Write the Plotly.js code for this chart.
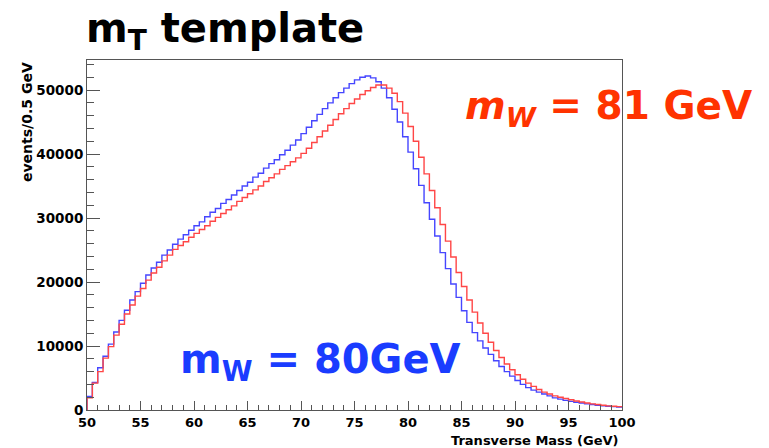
<!DOCTYPE html>
<html>
<head>
<meta charset="utf-8">
<script src="https://cdn.plot.ly/plotly-3.0.1.min.js"></script>
<style>html,body{margin:0;padding:0;background:#fff;}#chart{width:769px;height:448px;}</style>
</head>
<body>
<div id="chart"></div>
<script>
// Histogram: 100 bins of 0.5 GeV from 50 to 100 GeV
const binLow = 50, binWidth = 0.5, nBins = 100;

// m_W = 80 GeV template (events / 0.5 GeV)
const mw80 = [2100,4300,6600,8400,10300,12200,14000,15600,17200,18500,
  19800,21100,22200,23100,24200,25000,25900,26700,27400,28100,
  28800,29400,30200,30900,31500,32300,32900,33600,34300,35000,
  35600,36400,37000,37800,38500,39100,39900,40600,41400,42200,
  43200,44200,45200,46200,47100,48000,48800,49600,50300,51000,
  51600,52000,52200,51900,51300,50300,48800,47000,45000,42700,
  40300,37700,35100,32400,29800,27200,24600,22100,19700,17600,
  15500,13700,12100,10800,9700,8700,7700,6800,6000,5300,
  4600,4000,3500,3100,2800,2500,2200,1900,1700,1500,
  1350,1200,1100,950,850,750,650,580,520,460];

// m_W = 81 GeV template (events / 0.5 GeV)
const mw81 = [1900,4200,6000,8100,9900,11700,13400,15000,16400,17800,
  19000,20300,21400,22300,23300,24200,25100,25700,26300,27000,
  27600,28200,28800,29500,30100,30700,31300,31900,32600,33200,
  33800,34400,35000,35700,36300,36900,37600,38200,38800,39400,
  40100,40900,41800,42700,43600,44500,45400,46300,47100,47900,
  48600,49300,49900,50400,50800,50800,50300,49500,48200,46400,
  44300,42000,39500,36900,34300,31600,29000,26400,23900,21500,
  19300,17200,15300,13600,12000,10600,9300,8200,7200,6300,
  5500,4800,4200,3700,3200,2800,2500,2200,2000,1800,
  1600,1400,1250,1100,950,850,750,650,580,520];

const xTickVals = [50,55,60,65,70,75,80,85,90,95,100];
const yTickVals = [0,10000,20000,30000,40000,50000];

function stepXY(vals){
  const xs=[binLow], ys=[0];
  for(let i=0;i<vals.length;i++){ xs.push(binLow+i*binWidth); ys.push(vals[i]); }
  xs.push(binLow+vals.length*binWidth); ys.push(vals[vals.length-1]);
  return {xs, ys};
}
const b = stepXY(mw80), r = stepXY(mw81);

const traces = [
  {x:b.xs, y:b.ys, type:'scatter', mode:'lines', line:{shape:'hv', color:'rgb(70,70,255)', width:1.4}, hoverinfo:'skip'},
  {x:r.xs, y:r.ys, type:'scatter', mode:'lines', line:{shape:'hv', color:'rgb(255,70,70)', width:1.4}, hoverinfo:'skip'}
];

const tickFont = {family:'DejaVu Sans', size:13, color:'#000', weight:'bold'};
const X0=87, X1=622, Y0=60, Y1=410;
const px = v => (v-X0)/(X1-X0);
const py = v => (Y1-v)/(Y1-Y0);

const layout = {
  width:769, height:448,
  margin:{l:X0, r:769-X1, t:Y0, b:448-Y1},
  paper_bgcolor:'#fff', plot_bgcolor:'#fff',
  showlegend:false,
  xaxis:{range:[50,100], tickvals:xTickVals, ticktext:xTickVals.map(String), ticks:'inside', ticklen:9, tickcolor:'#555',
    ticklabelstandoff:0,
    showline:true, mirror:true, linecolor:'#555', linewidth:1, showgrid:false, zeroline:false, tickfont:tickFont,
    minor:{dtick:1, ticks:'inside', ticklen:5, tickcolor:'#555', showgrid:false}},
  yaxis:{range:[0,54700], tickvals:yTickVals, ticktext:yTickVals.map(String), ticks:'inside', ticklen:13, tickcolor:'#555',
    showline:true, mirror:true, linecolor:'#555', linewidth:1, showgrid:false, zeroline:false,
    tickfont:{family:'DejaVu Sans', size:13.5, color:'#000', weight:'bold'},
    minor:{dtick:2000, ticks:'inside', ticklen:7, tickcolor:'#555', showgrid:false}},
  annotations:[
    {text:'m<sub>T</sub> template', xref:'paper', yref:'paper', x:px(84), y:py(31), xanchor:'left', yanchor:'middle', showarrow:false,
     font:{family:'DejaVu Sans', size:40, color:'#000', weight:'bold'}},
    {text:'events/0.5 GeV', xref:'paper', yref:'paper', x:px(27), y:py(60), xanchor:'center', yanchor:'top', textangle:-90, showarrow:false,
     font:{family:'DejaVu Sans', size:14, color:'#000', weight:'bold'}},
    {text:'Transverse Mass (GeV)', xref:'paper', yref:'paper', x:px(620), y:py(449), xanchor:'right', yanchor:'bottom', showarrow:false,
     borderpad:0, font:{family:'DejaVu Sans', size:13, color:'#000', weight:'bold'}},
    {text:'<i>m<sub>W</sub></i> = 81 GeV', xref:'paper', yref:'paper', x:px(463), y:py(108), xanchor:'left', yanchor:'middle', showarrow:false,
     font:{family:'DejaVu Sans', size:39, color:'#ff3300', weight:'bold'}},
    {text:'m<sub>W</sub> = 80GeV', xref:'paper', yref:'paper', x:px(178), y:py(362), xanchor:'left', yanchor:'middle', showarrow:false,
     font:{family:'DejaVu Sans', size:40, color:'#1a3cff', weight:'bold'}}
  ]
};

Plotly.newPlot('chart', traces, layout, {staticPlot:true, displayModeBar:false});
</script>
</body>
</html>
